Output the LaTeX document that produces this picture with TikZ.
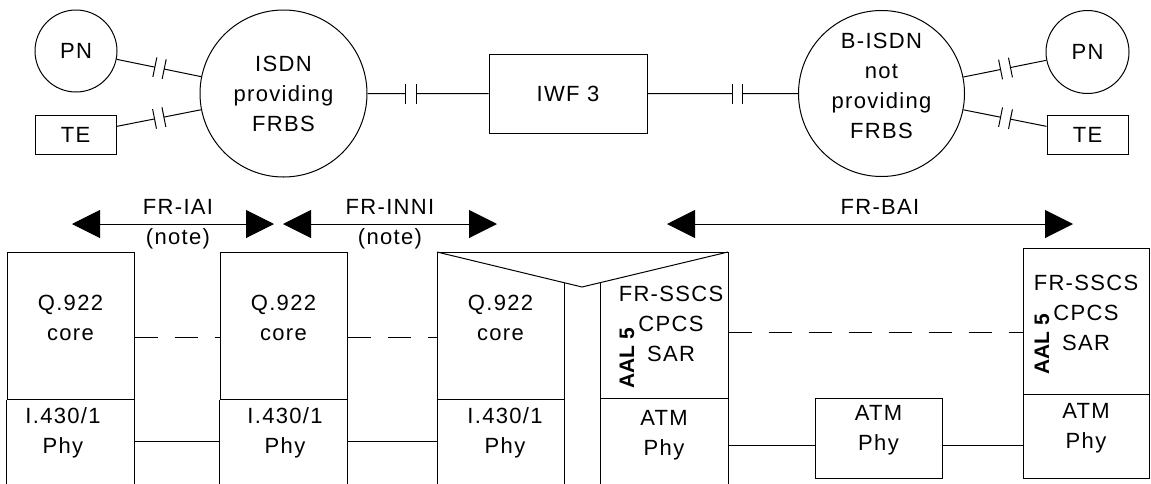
\documentclass[tikz,border=0pt]{standalone}
\usepackage{fontspec}
\setmainfont{Liberation Sans}[LetterSpace=6]
\newfontfamily\aalfont{Liberation Sans}
\usetikzlibrary{arrows.meta,calc,fit,positioning}

% connector with a break: from #1 to #2, gap between fractions #3 and #4
\newcommand{\brkline}[4]{%
  \draw (#1) -- ($(#1)!#3!(#2)$) coordinate (brkA);
  \draw ($(#1)!#4!(#2)$) coordinate (brkB) -- (#2);
  \draw ($(brkA)!5pt!90:(#2)$) -- ($(brkA)!5pt!-90:(#2)$);
  \draw ($(brkB)!5pt!90:(#2)$) -- ($(brkB)!5pt!-90:(#2)$);
}

\begin{document}
\begin{tikzpicture}[x=0.5pt,y=0.5pt,line width=0.5pt,
  txt/.style={font=\fontsize{11}{15}\selectfont,align=center,inner sep=0pt},
  unit/.style={draw,circle,txt},
  term/.style={draw,txt,minimum width=40.5pt,minimum height=19.5pt},
  layer/.style={draw,txt},
  zone/.style={txt},
  aal/.style={font=\aalfont\bfseries\fontsize{10.5}{12}\selectfont,rotate=90,inner sep=0pt},
  peer/.style={dash pattern=on 11.5pt off 8.5pt},
  iface/.style={{Triangle[length=14pt,width=14pt]}-{Triangle[length=14pt,width=14pt]}}]
% pixel grid 1151 x 483, y downwards negative
\useasboundingbox (0,0) rectangle (1151,-483);
\clip (0,0) rectangle (1151,-483);

% networks
\node[unit,minimum size=41pt] (pnA) at (76,-51) {PN};
\node[term] (teA) at (75.5,-134.5) {TE};
\node[unit,minimum size=83.5pt] (isdn) at (283.5,-93.5) {ISDN\\providing\\FRBS};
\node[draw,txt,minimum width=79pt,minimum height=39.5pt] (iwf) at (568,-93.5) {IWF 3};
\node[unit,minimum size=83pt,text depth=8pt] (bisdn) at (881.5,-93.5) {B-ISDN\\not\\providing\\FRBS};
\node[unit,minimum size=41.5pt] (pnB) at (1087.5,-52) {PN};
\node[term] (teB) at (1087.5,-134.5) {TE};

\brkline{isdn}{pnA}{0.575}{0.62}
\brkline{isdn}{teA}{0.575}{0.62}
\brkline{isdn}{iwf}{0.428}{0.467}
\brkline{iwf}{bisdn}{0.524}{0.556}
\brkline{bisdn}{pnB}{0.578}{0.626}
\brkline{bisdn}{teB}{0.578}{0.626}

% reference points
\coordinate (iaiL) at (72,-224);
\coordinate (iaiR) at (274,-224);
\coordinate (inniL) at (283,-224);
\coordinate (inniR) at (497,-224);
\coordinate (baiL) at (667,-224);
\coordinate (baiR) at (1073,-224);
\draw[iface] (iaiL) -- (iaiR);
\draw[iface] (inniL) -- (inniR);
\draw[iface] (baiL) -- (baiR);
\node[txt] (iai) at (178,-207) {FR-IAI};
\node[txt] (iaiN) at (178,-239) {(note)};
\node[txt] (inni) at (390,-207) {FR-INNI};
\node[txt] (inniN) at (390,-239) {(note)};
\node[txt] (bai) at (880,-207) {FR-BAI};

% protocol stacks
\node[layer,fit={(7,-252) (134,-399)}] (q1) {Q.922\\core};
\draw (q1.south west) -- ++(0,-100) (q1.south east) -- ++(0,-100);
\node[zone] (p1) at (63,-433) {I.430/1\\Phy};

\node[layer,fit={(220,-252) (347,-399)}] (q2) {Q.922\\core};
\draw (q2.south west) -- ++(0,-100) (q2.south east) -- ++(0,-100);
\node[zone] (p2) at (285,-433) {I.430/1\\Phy};

\node[zone,fit={(437,-252) (564,-399)}] (q3) {Q.922\\core};
\node[zone,fit={(600,-399) (728,-486)}] (a3) {ATM\\Phy};
\draw (437,-495) -- (437,-252) -- (728,-252) -- (728,-495);
\draw (437,-252) -- (582,-287) -- (728,-252);
\draw (564,-282.7) -- (564,-495) (600,-282.7) -- (600,-495);
\draw (q3.south west) -- (q3.south east) (a3.north west) -- (a3.north east);
\node[zone] (p3) at (505,-433) {I.430/1\\Phy};
\node[zone] (s3) at (671,-323.5) {FR-SSCS\\CPCS\\SAR};
\node[aal] (aal3) at (627,-358) {AAL 5};

\node[layer,fit={(815,-398) (942,-478)}] (atm) {ATM\\Phy};

\node[layer,fit={(1023,-248) (1149,-394)}] (q4) {FR-SSCS\\CPCS\\SAR};
\node[layer,fit={(1023,-394) (1149,-478)}] (p4) {ATM\\Phy};
\node[aal] (aal4) at (1042,-344) {AAL 5};

% peer and physical links
\coordinate (rowA) at (0,-337);
\coordinate (rowB) at (0,-332);
\coordinate (rowC) at (0,-441);
\coordinate (rowD) at (0,-445);
\draw[peer] (q1.east |- rowA) -- (q2.west |- rowA);
\draw[peer] (q2.east |- rowA) -- (q3.west |- rowA);
\draw[peer] (a3.east |- rowB) -- (q4.west |- rowB);
\draw (q1.east |- rowC) -- (q2.west |- rowC);
\draw (q2.east |- rowC) -- (q3.west |- rowC);
\draw (a3.east |- rowD) -- (atm.west |- rowD);
\draw (atm.east |- rowD) -- (p4.west |- rowD);
\end{tikzpicture}
\end{document}
